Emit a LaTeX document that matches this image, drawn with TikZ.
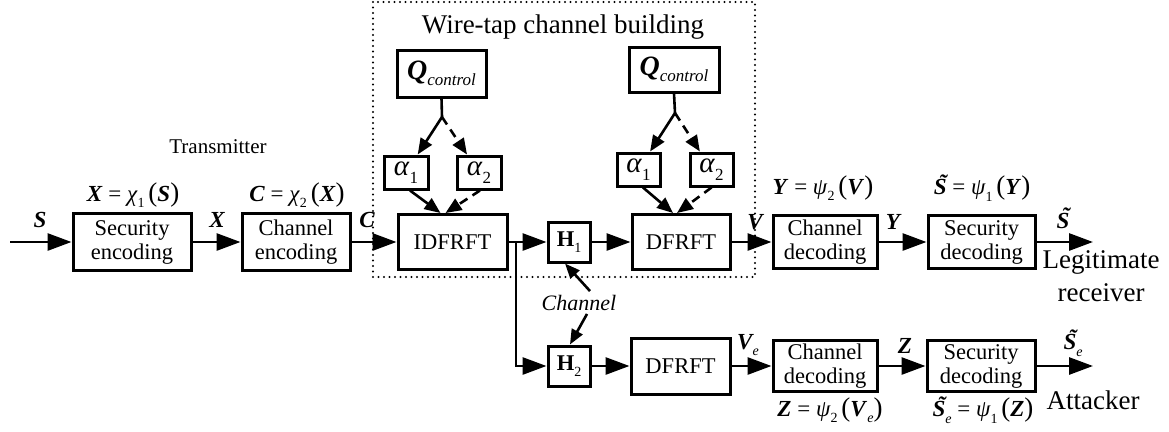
\documentclass[tikz,border=0pt]{standalone}
\usepackage{fontspec}
\setmainfont{Liberation Serif}
\usepackage{graphicx}
\usetikzlibrary{arrows.meta,calc}
\newcommand{\lsub}[2][14]{\raisebox{-0.28em}{\fontsize{#1}{#1}\selectfont #2}}
\newcommand{\bi}[1]{\textbf{\textit{#1}}}
\newcommand{\tS}{\bi{\makebox[0pt][l]{\makebox[0.78em]{\raisebox{0.2em}{˜}}}S}}
\newcommand{\bp}[1]{{\fontsize{27}{27}\selectfont(}#1{\fontsize{27}{27}\selectfont)}}
\begin{document}
\begin{tikzpicture}[x=1pt,y=-1pt,
  blk/.style={draw, line width=3pt, inner sep=0pt, align=center, font=\fontsize{22.5}{24}\selectfont},
  arr/.style={line width=2.8pt, -{Triangle[length=24pt,width=17pt]}},
  sarr/.style={line width=2.6pt, -{Triangle[length=16pt,width=13pt]}},
  dsarr/.style={sarr, dash pattern=on 9pt off 6pt},
  carr/.style={line width=2.6pt, -{Triangle[length=15pt,width=12pt]}},
  lbl/.style={font=\fontsize{23}{24}\selectfont\bfseries\itshape, inner sep=0pt},
  eq/.style={font=\fontsize{23}{24}\selectfont, inner sep=0pt},
  big/.style={font=\fontsize{27}{33}\selectfont, inner sep=0pt, align=center},
  dotbox/.style={line width=2.4pt, dash pattern=on 0pt off 5.5pt, line cap=round}
]
\useasboundingbox (0,0) rectangle (1169,431);

% wire-tap frame
\draw[dotbox] (373,2) rectangle (755,277);
\node[big] (title) at (563,27) {Wire-tap channel building};

% main row
\coordinate (in) at (10,242);
\node[blk, minimum width=118pt, minimum height=57pt] (se) at (132,242) {Security\\encoding};
\node[blk, minimum width=108pt, minimum height=57pt] (ce) at (296,242) {Channel\\encoding};
\node[blk, minimum width=109pt, minimum height=55pt] (idf) at (452.5,242) {IDFRFT};
\node[blk, minimum width=42pt, minimum height=40pt] (h1) at (569,242) {\textbf{H}\lsub{1}};
\node[blk, minimum width=98pt, minimum height=55pt] (dft) at (681,242) {DFRFT};
\node[blk, minimum width=104pt, minimum height=53pt] (cd) at (825,242) {Channel\\decoding};
\node[blk, minimum width=107pt, minimum height=53pt] (sd) at (981.5,242) {Security\\decoding};
\coordinate (out) at (1093,242);
\coordinate (br) at (516,242);

% control boxes
\node[blk, minimum width=89pt, minimum height=47pt] (q1) at (441.5,73.5) {{\fontsize{28}{28}\selectfont\bi{Q}}\lsub[17]{\textit{control}}};
\node[blk, minimum width=90pt, minimum height=45pt] (q2) at (674,69.5) {{\fontsize{28}{28}\selectfont\bi{Q}}\lsub[17]{\textit{control}}};
\coordinate (b1) at (442,117);
\coordinate (b2) at (675,113);
\node[blk, minimum width=44pt, minimum height=33pt, font=\fontsize{29}{29}\selectfont] (a11) at (406,172.5) {\textit{α}\lsub[17]{1}};
\node[blk, minimum width=44pt, minimum height=33pt, font=\fontsize{29}{29}\selectfont] (a12) at (479,172.5) {\textit{α}\lsub[17]{2}};
\node[blk, minimum width=43pt, minimum height=33pt, font=\fontsize{29}{29}\selectfont] (a21) at (638.5,169.5) {\textit{α}\lsub[17]{1}};
\node[blk, minimum width=43pt, minimum height=33pt, font=\fontsize{29}{29}\selectfont] (a22) at (711.5,169.5) {\textit{α}\lsub[17]{2}};

% bottom row
\node[blk, minimum width=42pt, minimum height=40pt] (h2) at (569,366) {\textbf{H}\lsub{2}};
\node[blk, minimum width=99pt, minimum height=56pt] (dfb) at (680.5,366) {DFRFT};
\node[blk, minimum width=104pt, minimum height=51pt] (cdb) at (825,366) {Channel\\decoding};
\node[blk, minimum width=108pt, minimum height=51pt] (sdb) at (981,366) {Security\\decoding};
\coordinate (out2) at (1093,366);

% labels
\node[eq, font=\fontsize{21}{24}\selectfont] (tx) at (218,147) {Transmitter};
\node[lbl] (lS) at (40,220) {S};
\node[lbl] (lX) at (217,220) {X};
\node[lbl] (lC) at (367,220) {C};
\node[lbl] (lV) at (755,222) {V};
\node[lbl] (lY) at (893,222) {Y};
\node[lbl] (lSt) at (1063,218) {\tS};
\node[lbl] (lVe) at (748,345) {V\lsub{\textit{\mdseries e}}};
\node[lbl] (lZ) at (905,346) {Z};
\node[lbl] (lSe) at (1073,343) {\tS\lsub{\textit{\mdseries e}}};

\node[eq] (e1) at (133,195) {\bi{X} = \textit{χ}\lsub{1}\,\bp{\bi{S}}};
\node[eq] (e2) at (297,195) {\bi{C} = \textit{χ}\lsub{2}\,\bp{\bi{X}}};
\node[eq] (e3) at (823,188) {\bi{Y} = \textit{ψ}\lsub{2}\,\bp{\bi{V}}};
\node[eq] (e4) at (982,188) {\tS{} = \textit{ψ}\lsub{1}\,\bp{\bi{Y}}};
\node[eq] (e5) at (830,410) {\bi{Z} = \textit{ψ}\lsub{2}\,\bp{\bi{V}\lsub{\textit{e}}}};
\node[eq] (e6) at (983,410) {\tS\lsub{\textit{e}} = \textit{ψ}\lsub{1}\,\bp{\bi{Z}}};

\node[big] (leg) at (1101,276) {Legitimate\\receiver};
\node[big] (att) at (1093,400) {Attacker};
\node[eq, font=\fontsize{22}{24}\selectfont\itshape] (ch) at (579,303) {Channel};

% connectors main row
\draw[arr] (in) -- (se);
\draw[arr] (se) -- (ce);
\draw[arr] (ce) -- (idf);
\draw[arr] (idf) -- (h1);
\draw[arr] (h1) -- (dft);
\draw[arr] (dft) -- (cd);
\draw[arr] (cd) -- (sd);
\draw[arr] (sd) -- (out);
\draw[arr] (br) |- (h2);
\draw[arr] (h2) -- (dfb);
\draw[arr] (dfb) -- (cdb);
\draw[arr] (cdb) -- (sdb);
\draw[arr] (sdb) -- (out2);

% control connectors
\draw[line width=2.6pt] (q1.south) -- (b1);
\draw[line width=2.6pt] (q2.south) -- (b2);
\draw[sarr] (b1) -- (a11);
\draw[dsarr] (b1) -- (a12);
\draw[sarr] (b2) -- (a21);
\draw[dsarr] (b2) -- (a22);
\draw[sarr] ($(a11.south)+(4,0)$) -- ($(idf.north)+(-12,0)$);
\draw[dsarr] ($(a12.south)+(1,0)$) -- ($(idf.north)+(-7,0)$);
\draw[sarr] ($(a21.south)+(4.5,0)$) -- ($(dft.north)+(-8,0)$);
\draw[dsarr] ($(a22.south)+(0,0)$) -- ($(dft.north)+(-4,0)$);

% channel arrows
\draw[carr] ($(ch.north)+(11,-4)$) -- ($(h1.south)+(-4,0)$);
\draw[carr] ($(ch.south)+(8,3)$) -- ($(h2.north)+(1,0)$);
\end{tikzpicture}
\end{document}
